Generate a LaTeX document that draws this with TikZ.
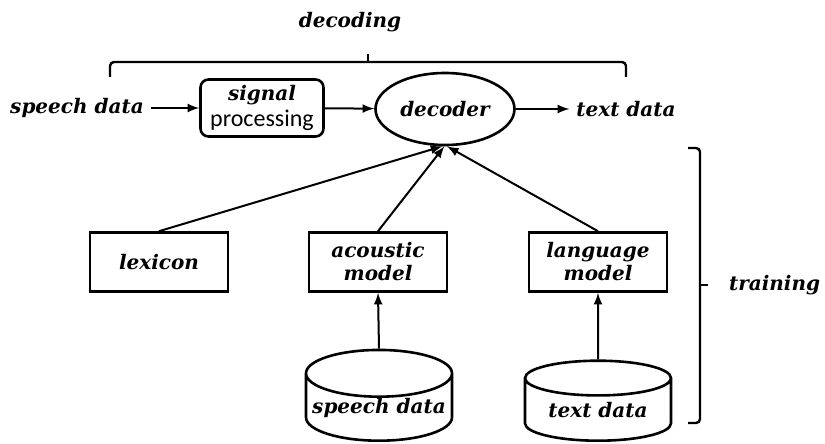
\documentclass[tikz,border=0pt]{standalone}
\usepackage{fontspec}
\newfontfamily\calibri{Carlito}
\newfontfamily\labelfont{DejaVu Serif}
\usetikzlibrary{shapes.geometric}

\begin{document}
\begin{tikzpicture}[x=0.5pt,y=-0.5pt,
  txt/.style={font=\labelfont\fontsize{10}{11.5}\selectfont\bfseries\itshape},
  box/.style={draw, txt, line width=1.3pt, align=center, inner sep=0pt,
    minimum width=69pt, minimum height=29.5pt},
  sigbox/.style={box, rounded corners=4pt, minimum width=61.5pt, minimum height=28.5pt},
  decnode/.style={draw, txt, ellipse, line width=1.3pt, inner sep=0pt,
    minimum width=69.5pt, minimum height=36pt},
  dbnode/.style={draw, txt, cylinder, shape border rotate=90, aspect=0.35,
    line width=1.3pt, inner sep=0pt, minimum width=73pt, minimum height=40pt},
  arr/.style={-latex, line width=1pt},
  brk/.style={line width=1.2pt, rounded corners=2pt}]

\useasboundingbox (0,0) rectangle (825,444);

% Decoding row
\node[txt] (src) at (77,108) {speech data};
\node[sigbox] (sig) at (262,108) {signal\\[1.5pt]{\calibri\mdseries\upshape\fontsize{12}{13}\selectfont processing}};
\node[decnode] (dec) at (445,109) {decoder};
\node[txt] (out) at (626,109) {text data};

\draw[arr] (src) -- (sig);
\draw[arr] (sig) -- (dec);
\draw[arr] (dec) -- (out);

% Models
\node[box] (lex) at (159,262) {lexicon};
\node[box] (ac) at (378,262) {acoustic\\model};
\node[box] (lm) at (598,262) {language\\model};

\draw[arr] (lex.north) -- (dec.266);
\draw[arr] (ac.north) -- (dec.269);
\draw[arr] (lm.north) -- (dec.273);

% Data bases
\node[dbnode, anchor=south] (sd) at (379,442) {speech data};
\node[dbnode, anchor=south] (td) at (598,442) {text data};

\draw[arr] (sd.north) -- (ac.south);
\draw[arr] (td.north) -- (lm.south);

% Braces
\draw[brk] (110,77) -- (110,62) -- (626,62) -- (626,77);
\draw[brk] (368,62) -- (368,54);
\node[txt] (dlab) at (350,22) {decoding};

\draw[brk] (688,148) -- (700,148) -- (700,423) -- (688,423);
\draw[brk] (700,285) -- (708,285);
\node[txt, anchor=west] (tlab) at (722,285) {training};

\end{tikzpicture}
\end{document}
